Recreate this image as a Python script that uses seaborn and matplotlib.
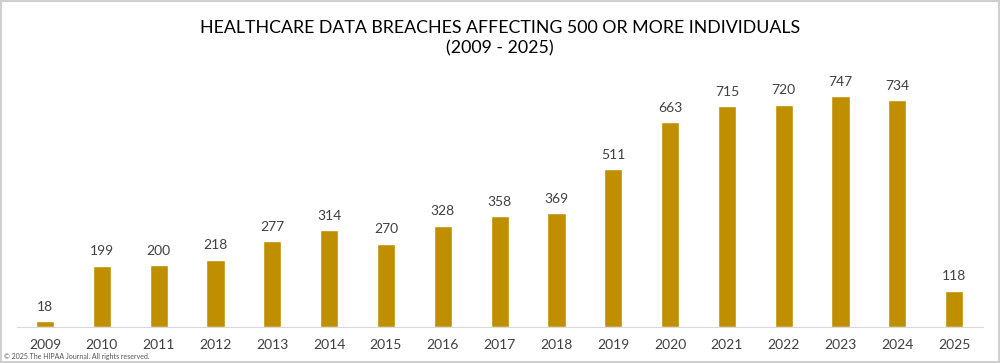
import matplotlib
matplotlib.use("Agg")
import matplotlib.pyplot as plt
import seaborn as sns
import pandas as pd
from matplotlib.patches import Rectangle

years = ["2009", "2010", "2011", "2012", "2013", "2014", "2015", "2016", "2017",
         "2018", "2019", "2020", "2021", "2022", "2023", "2024", "2025"]
breaches = [18, 199, 200, 218, 277, 314, 270, 328, 358, 369, 511, 663, 715, 720, 747, 734, 118]

df = pd.DataFrame({"year": years, "breaches": breaches})

sns.set_style("white")
plt.rcParams["font.family"] = ["Lato", "DejaVu Sans"]

fig = plt.figure(figsize=(10, 3.63), dpi=100)
ax = fig.add_axes([0.0166, 0.0992, 0.966, 0.6804])

sns.barplot(data=df, x="year", y="breaches", color="#BF8F00", width=0.32,
            saturation=1, ax=ax)

# value labels above each bar
for c in ax.containers:
    ax.bar_label(c, padding=6, fontsize=10, color="#404040")

ax.set_xlim(-0.5, len(years) - 0.5)
ax.set_ylim(0, 800)
ax.set_yticks([])
ax.set(xlabel="", ylabel="")
ax.tick_params(axis="x", length=0, pad=9, labelsize=10, labelcolor="#404040")
sns.despine(ax=ax, left=True, top=True, right=True)
ax.spines["bottom"].set_color("#D9D9D9")

fig.text(0.5, 0.922, "HEALTHCARE DATA BREACHES AFFECTING 500 OR MORE INDIVIDUALS",
         ha="center", va="center", fontsize=12.8, color="#000000")
fig.text(0.5, 0.868, "(2009 - 2025)", ha="center", va="center", fontsize=12.8, color="#000000")
fig.text(0.004, 0.018, "\u00a9 2025 The HIPAA Journal. All rights reserved.",
         ha="left", va="center", fontsize=5, color="#555555")

fig.patches.append(Rectangle((0.001, 0.002), 0.998, 0.995, transform=fig.transFigure,
                             fill=False, edgecolor="#D0D0D0", linewidth=1.5))

fig.savefig("out.png", dpi=100)
